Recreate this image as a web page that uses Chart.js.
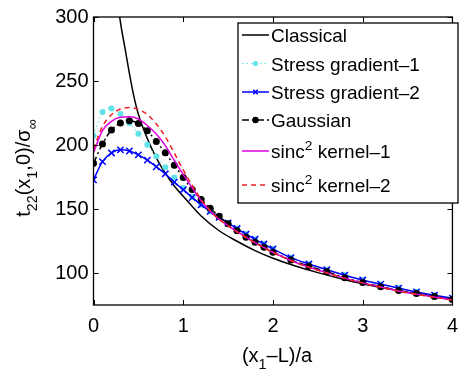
<!DOCTYPE html>
<html lang="en">
<head>
    <meta charset="UTF-8">
    <title>t22 along the crack line</title>
    <script src="https://cdn.jsdelivr.net/npm/chart.js"></script>
    <style>
        body { margin: 0; background: #fff; }
        canvas { display: block; }
    </style>
</head>
<body>
    <canvas id="stressChart" width="467" height="373"></canvas>
    <script>
        // x positions of the computed points, (x1-L)/a
        const xGrid = [0, 0.1, 0.2, 0.3, 0.4, 0.5, 0.6, 0.7, 0.8, 0.9, 1.0,
                       1.1, 1.2, 1.3, 1.4, 1.5, 1.6, 1.7, 1.8, 1.9, 2.0,
                       2.2, 2.4, 2.6, 2.8, 3.0, 3.2, 3.4, 3.6, 3.8, 4.0];
        const xClassical = [0.27, 0.3, 0.35, 0.4, 0.45, 0.5, 0.6, 0.7, 0.8, 0.9, 1.0,
                            1.2, 1.4, 1.6, 1.8, 2.0, 2.25, 2.5, 2.75, 3.0, 3.25, 3.5, 3.75, 4.0];

        const classical = [312, 296, 276, 256, 238, 224, 205, 190, 178, 168, 160,
                           144.5, 133, 124.8, 117.5, 111.5, 105.5, 100.3, 95.7, 91.5, 88, 84.9, 82, 79.2];
        const stressGrad1 = [207.3, 225.8, 228.5, 224.2, 217, 208.8, 200.1, 191.3, 182.6, 174.6, 166.5,
                             159.5, 153.4, 148.3, 143.6, 139.1, 134.8, 130.4, 126.4, 122.7, 118.9,
                             112.1, 107.1, 102.6, 98.4, 94.6, 91.3, 88.3, 85.3, 82.8, 80.4];
        const stressGrad2 = [172.8, 187, 193.8, 196.2, 195.3, 192.3, 188.2, 183, 177.5, 171, 165,
                             159, 153.2, 148.2, 143.5, 139, 134.7, 130.3, 126.3, 122.6, 118.8,
                             112, 107, 102.5, 98.3, 94.5, 91.2, 88.2, 85.2, 82.7, 80.3];
        const gaussian = [185.8, 200.8, 211.7, 217.2, 219, 216.8, 211.2, 202.8, 193.9, 184.2, 174.6,
                          165.2, 157.5, 150.5, 144.3, 138.5, 133, 128, 124, 120.2, 116.3,
                          110.2, 105.3, 101, 96.3, 92.5, 89.3, 86.3, 84, 81.6, 79.3];
        const sincKernel1 = [194, 211.2, 218.5, 221.6, 222, 220.3, 215.2, 208.6, 199.5, 188, 177,
                             166.5, 156.5, 148.5, 142, 137, 132.3, 128, 123.8, 120, 116.2,
                             109.8, 104.6, 100.2, 96, 92.3, 89, 86, 83.5, 81.2, 79];
        const sincKernel2 = [197, 214.5, 223.7, 228.1, 229.2, 227.8, 223.8, 216.4, 206.5, 193.8, 180.5,
                             168.5, 157.5, 148.8, 142, 136.8, 132, 127.7, 123.5, 119.7, 116,
                             109.6, 104.4, 100, 95.8, 92.1, 88.8, 85.8, 83.3, 81, 78.8];

        const seriesNames = ['Classical', 'Stress gradient\u20131', 'Stress gradient\u20132',
                             'Gaussian', 'sinc\u00b2 kernel\u20131', 'sinc\u00b2 kernel\u20132'];
        const xTicks = [0, 1, 2, 3, 4];
        const yTicks = [100, 150, 200, 250, 300];

        const FONT = '"Liberation Sans", Arial, Helvetica, sans-serif';

        function pts(xs, ys) {
            return xs.map((x, i) => ({ x: x, y: ys[i] }));
        }

        // split a label into parts; '²' becomes a superscript 2
        function richParts(str) {
            const parts = [];
            str.split('\u00b2').forEach((s, i) => {
                if (i > 0) parts.push({ t: '2', sup: true });
                if (s) parts.push({ t: s });
            });
            return parts;
        }

        function richWidth(ctx, parts, fs) {
            let w = 0;
            parts.forEach(p => {
                ctx.font = (p.sub || p.sup ? fs * 0.72 : fs) + 'px ' + FONT;
                w += ctx.measureText(p.t).width;
            });
            return w;
        }

        function drawRich(ctx, parts, x, y, fs) {
            ctx.textBaseline = 'alphabetic';
            ctx.textAlign = 'left';
            parts.forEach(p => {
                let dy = 0;
                if (p.sub) dy = fs * 0.33;
                if (p.sup) dy = -fs * 0.42;
                ctx.font = (p.sub || p.sup ? fs * 0.72 : fs) + 'px ' + FONT;
                ctx.fillText(p.t, x, y + dy);
                x += ctx.measureText(p.t).width;
            });
        }

        const frame = {
            id: 'frame',
            afterDatasetsDraw(chart) {
                const ctx = chart.ctx;
                const a = chart.chartArea;
                const xs = chart.scales.x, ys = chart.scales.y;
                ctx.save();
                ctx.strokeStyle = '#000';
                ctx.lineWidth = 1.3;
                ctx.strokeRect(a.left, a.top, a.right - a.left, a.bottom - a.top);
                ctx.lineWidth = 1;
                ctx.beginPath();
                xTicks.forEach(v => {
                    const px = Math.round(xs.getPixelForValue(v)) + 0.5;
                    ctx.moveTo(px, a.bottom); ctx.lineTo(px, a.bottom - 5);
                    ctx.moveTo(px, a.top); ctx.lineTo(px, a.top + 5);
                });
                yTicks.forEach(v => {
                    const py = Math.round(ys.getPixelForValue(v)) + 0.5;
                    ctx.moveTo(a.left, py); ctx.lineTo(a.left + 5, py);
                    ctx.moveTo(a.right, py); ctx.lineTo(a.right - 5, py);
                });
                ctx.stroke();
                ctx.restore();
            },
            afterDraw(chart) {
                const ctx = chart.ctx;
                ctx.save();

                // legend box
                const bx = 238, by = 23, bw = 220, bh = 180;
                ctx.fillStyle = '#fff';
                ctx.fillRect(bx, by, bw, bh);
                ctx.strokeStyle = '#000';
                ctx.lineWidth = 1.3;
                ctx.strokeRect(bx, by, bw, bh);
                const rows = [35, 63.5, 92, 120, 151, 185];
                chart.data.datasets.forEach((ds, i) => {
                    const ry = rows[i];
                    ctx.save();
                    ctx.strokeStyle = ds.borderColor;
                    ctx.lineWidth = ds.borderWidth;
                    ctx.setLineDash(ds.borderDash || []);
                    ctx.beginPath();
                    ctx.moveTo(242, ry); ctx.lineTo(269, ry);
                    ctx.stroke();
                    ctx.setLineDash([]);
                    if (ds.pointRadius > 0) {
                        ctx.fillStyle = ds.pointBackgroundColor;
                        ctx.strokeStyle = ds.pointBorderColor;
                        Chart.helpers.drawPoint(ctx, {
                            pointStyle: ds.pointStyle, radius: ds.pointRadius * 0.7,
                            borderWidth: ds.pointBorderWidth || 1
                        }, 255.5, ry);
                    }
                    ctx.restore();
                    ctx.fillStyle = '#000';
                    drawRich(ctx, richParts(ds.label), 271, ry + 7, 19);
                });

                // x axis title
                ctx.fillStyle = '#000';
                const xt = [{ t: '(x' }, { t: '1', sub: true }, { t: '\u2013L)/a' }];
                const xw = richWidth(ctx, xt, 20);
                drawRich(ctx, xt, 277 - xw / 2, 362, 20);

                // y axis title (rotated)
                const yt = [{ t: 't' }, { t: '22', sub: true }, { t: '(x' }, { t: '1', sub: true },
                            { t: ',0)/\u03c3' }, { t: '\u221e', sub: true }];
                const yw = richWidth(ctx, yt, 20);
                ctx.translate(30, 168);
                ctx.rotate(-Math.PI / 2);
                drawRich(ctx, yt, -yw / 2, 0, 20);
                ctx.restore();
            }
        };

        const styles = [
            { color: '#000000', width: 1.5, dash: [], point: false, radius: 0 },
            { color: '#5fe3e8', width: 1, dash: [1.5, 3], point: 'circle', radius: 3 },
            { color: '#0000ff', width: 1.5, dash: [], point: 'crossRot', radius: 4.5 },
            { color: '#000000', width: 1.5, dash: [7, 3, 2, 3], point: 'circle', radius: 3.5 },
            { color: '#e000e0', width: 1.5, dash: [], point: false, radius: 0 },
            { color: '#ee2222', width: 1.5, dash: [5, 4], point: false, radius: 0 }
        ];
        const seriesData = [pts(xClassical, classical), pts(xGrid, stressGrad1), pts(xGrid, stressGrad2),
                            pts(xGrid, gaussian), pts(xGrid, sincKernel1), pts(xGrid, sincKernel2)];

        const datasets = seriesData.map((d, i) => ({
            label: seriesNames[i],
            data: d,
            order: 10 - i,
            borderColor: styles[i].color,
            backgroundColor: styles[i].color,
            borderWidth: styles[i].width,
            borderDash: styles[i].dash,
            pointStyle: styles[i].point || 'circle',
            pointRadius: styles[i].radius,
            pointBackgroundColor: styles[i].color,
            pointBorderColor: styles[i].color,
            pointBorderWidth: i === 2 ? 1.5 : 0,
            pointHoverRadius: 0,
            cubicInterpolationMode: 'monotone',
            fill: false
        }));

        Chart.defaults.color = '#000';
        const chart = new Chart(document.getElementById('stressChart'), {
            type: 'line',
            data: { datasets: datasets },
            options: {
                responsive: false,
                animation: false,
                devicePixelRatio: 1,
                layout: { padding: { top: 16, right: 5.5, left: 0, bottom: 0 } },
                plugins: { legend: { display: false }, tooltip: { enabled: false } },
                events: [],
                scales: {
                    x: {
                        type: 'linear', min: 0, max: 4,
                        grid: { display: false, drawTicks: false },
                        border: { display: false },
                        afterBuildTicks: s => { s.ticks = xTicks.map(v => ({ value: v })); },
                        afterFit: s => { s.height = 68; },
                        ticks: { padding: 9, font: { family: FONT, size: 20 }, maxRotation: 0 }
                    },
                    y: {
                        type: 'linear', min: 75, max: 300,
                        grid: { display: false, drawTicks: false },
                        border: { display: false },
                        afterBuildTicks: s => { s.ticks = yTicks.map(v => ({ value: v })); },
                        afterFit: s => { s.width = 93.5; },
                        ticks: { padding: 5, font: { family: FONT, size: 20 } }
                    }
                }
            },
            plugins: [frame]
        });
    </script>
</body>
</html>
